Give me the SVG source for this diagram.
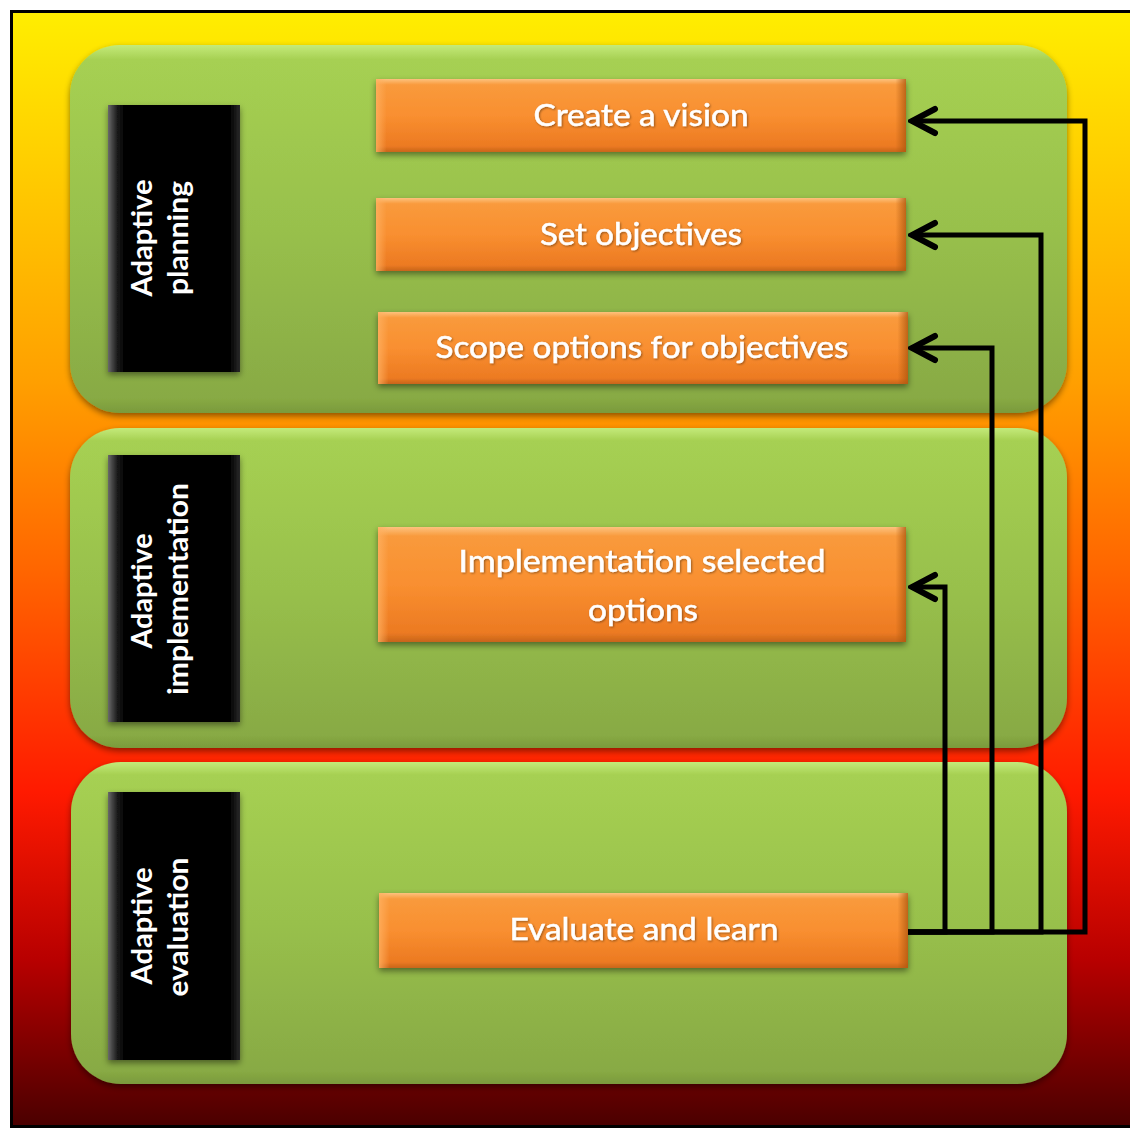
<svg xmlns="http://www.w3.org/2000/svg" width="1130" height="1129" viewBox="0 0 1130 1129">
  <defs>
    <linearGradient id="bg" x1="0" y1="0" x2="0" y2="1">
      <stop offset="0" stop-color="#FFEE00"/>
      <stop offset="0.33" stop-color="#FFA000"/>
      <stop offset="0.5" stop-color="#FF6600"/>
      <stop offset="0.7" stop-color="#FF1A00"/>
      <stop offset="0.85" stop-color="#B80000"/>
      <stop offset="1" stop-color="#4A0000"/>
    </linearGradient>
    <linearGradient id="green" x1="0" y1="0" x2="0" y2="1">
      <stop offset="0" stop-color="#C4EA7A"/>
      <stop offset="0.04" stop-color="#A6D052"/>
      <stop offset="0.5" stop-color="#98C04C"/>
      <stop offset="0.96" stop-color="#88AA44"/>
      <stop offset="1" stop-color="#7A9A3C"/>
    </linearGradient>
    <linearGradient id="orange" x1="0" y1="0" x2="0" y2="1">
      <stop offset="0" stop-color="#FDC27E"/>
      <stop offset="0.08" stop-color="#F99A3C"/>
      <stop offset="0.5" stop-color="#F98F30"/>
      <stop offset="0.92" stop-color="#EC7A22"/>
      <stop offset="1" stop-color="#C8651A"/>
    </linearGradient>
    <linearGradient id="orangeSide" x1="0" y1="0" x2="1" y2="0">
      <stop offset="0" stop-color="#FFB060" stop-opacity="0.8"/>
      <stop offset="0.02" stop-color="#FFB060" stop-opacity="0"/>
      <stop offset="0.98" stop-color="#B0580F" stop-opacity="0"/>
      <stop offset="1" stop-color="#B0580F" stop-opacity="0.8"/>
    </linearGradient>
    <linearGradient id="blackSide" x1="0" y1="0" x2="1" y2="0">
      <stop offset="0" stop-color="#6A6A6A"/>
      <stop offset="0.07" stop-color="#1A1A1A"/>
      <stop offset="0.12" stop-color="#050505"/>
      <stop offset="0.93" stop-color="#050505"/>
      <stop offset="1" stop-color="#2A2A2A"/>
    </linearGradient>
    <filter id="shadow" x="-10%" y="-10%" width="120%" height="130%">
      <feDropShadow dx="0" dy="3" stdDeviation="3" flood-color="#000" flood-opacity="0.45"/>
    </filter>
    <filter id="tshadow" x="-10%" y="-30%" width="120%" height="160%">
      <feDropShadow dx="1" dy="1" stdDeviation="1" flood-color="#000" flood-opacity="0.4"/>
    </filter>
    <marker id="arrow" markerUnits="userSpaceOnUse" viewBox="-30 -16 34 32" markerWidth="34" markerHeight="32" refX="0" refY="0" orient="auto">
      <path d="M-23,-12 L0,0 L-23,12" fill="none" stroke="#000" stroke-width="6" stroke-linecap="round" stroke-linejoin="miter"/>
    </marker>
    <style>
      .panel { fill: url(#green); filter: url(#shadow); }
      .label { fill: url(#blackSide); filter: url(#shadow); }
      .box { fill: url(#orange); filter: url(#shadow); }
      .boxSide { fill: url(#orangeSide); }
      .btxt { font-family: Lato, "Liberation Sans", sans-serif; font-size: 30px; fill: #FFFFFF; stroke: #FFFFFF; stroke-width: 0.5; text-anchor: middle; filter: url(#tshadow); }
      .vtxt { font-family: Lato, "Liberation Sans", sans-serif; font-size: 29px; font-weight: bold; fill: #FFFFFF; text-anchor: middle; }
      .conn { fill: none; stroke: #000; stroke-width: 5; stroke-linejoin: miter; }
    </style>
  </defs>

  <rect x="0" y="0" width="1130" height="1129" fill="#FFFFFF"/>
  <rect id="frame" x="11.5" y="11.5" width="1130" height="1115" fill="url(#bg)" stroke="#000" stroke-width="3"/>

  <g id="panel-planning">
    <rect class="panel" x="70" y="45" width="997" height="368" rx="50"/>
    <rect class="label" x="108" y="105" width="132" height="267"/>
    <text class="vtxt" transform="translate(152,238) rotate(-90)" textLength="117" lengthAdjust="spacingAndGlyphs">Adaptive</text>
    <text class="vtxt" transform="translate(188,238) rotate(-90)" textLength="114" lengthAdjust="spacingAndGlyphs">planning</text>
  </g>

  <g id="panel-implementation">
    <rect class="panel" x="70" y="428" width="997" height="320" rx="50"/>
    <rect class="label" x="108" y="455" width="132" height="267"/>
    <text class="vtxt" transform="translate(152,591) rotate(-90)" textLength="115" lengthAdjust="spacingAndGlyphs">Adaptive</text>
    <text class="vtxt" transform="translate(188,589) rotate(-90)" textLength="212" lengthAdjust="spacingAndGlyphs">implementation</text>
  </g>

  <g id="panel-evaluation">
    <rect class="panel" x="71" y="762" width="996" height="322" rx="50"/>
    <rect class="label" x="108" y="792" width="132" height="268"/>
    <text class="vtxt" transform="translate(152,926) rotate(-90)" textLength="117" lengthAdjust="spacingAndGlyphs">Adaptive</text>
    <text class="vtxt" transform="translate(188,927) rotate(-90)" textLength="139" lengthAdjust="spacingAndGlyphs">evaluation</text>
  </g>

  <g id="node-create-vision">
    <rect class="box" x="376" y="79" width="530" height="73"/>
    <rect class="boxSide" x="376" y="79" width="530" height="73"/>
    <text class="btxt" x="641" y="126" textLength="215" lengthAdjust="spacingAndGlyphs">Create a vision</text>
  </g>

  <g id="node-set-objectives">
    <rect class="box" x="376" y="198" width="530" height="73"/>
    <rect class="boxSide" x="376" y="198" width="530" height="73"/>
    <text class="btxt" x="641" y="245" textLength="202" lengthAdjust="spacingAndGlyphs">Set objectives</text>
  </g>

  <g id="node-scope-options">
    <rect class="box" x="378" y="312" width="530" height="72"/>
    <rect class="boxSide" x="378" y="312" width="530" height="72"/>
    <text class="btxt" x="642" y="358" textLength="413" lengthAdjust="spacingAndGlyphs">Scope options for objectives</text>
  </g>

  <g id="node-implementation">
    <rect class="box" x="378" y="527" width="528" height="115"/>
    <rect class="boxSide" x="378" y="527" width="528" height="115"/>
    <text class="btxt" x="642" y="572" textLength="367" lengthAdjust="spacingAndGlyphs">Implementation selected</text>
    <text class="btxt" x="643" y="621" textLength="110" lengthAdjust="spacingAndGlyphs">options</text>
  </g>

  <g id="node-evaluate">
    <rect class="box" x="379" y="893" width="529" height="75"/>
    <rect class="boxSide" x="379" y="893" width="529" height="75"/>
    <text class="btxt" x="644" y="940" textLength="269" lengthAdjust="spacingAndGlyphs">Evaluate and learn</text>
  </g>

  <g id="connectors">
    <path class="conn" d="M908,932 H1085 V121 H912" marker-end="url(#arrow)"/>
    <path class="conn" d="M908,932 H1041 V235 H912" marker-end="url(#arrow)"/>
    <path class="conn" d="M908,932 H992 V348 H912" marker-end="url(#arrow)"/>
    <path class="conn" d="M908,932 H945 V587 H912" marker-end="url(#arrow)"/>
  </g>
</svg>
